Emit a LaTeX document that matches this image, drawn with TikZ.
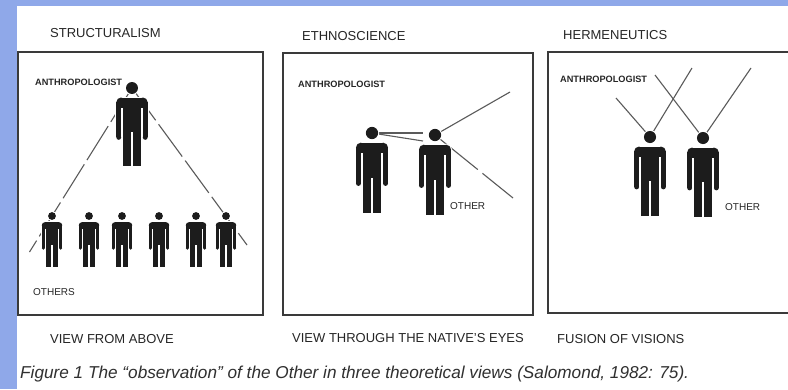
\documentclass[tikz,border=0pt]{standalone}
\usepackage{fontspec}
\setmainfont{Liberation Sans}

\definecolor{sideblue}{HTML}{8FA8E9}
\definecolor{figink}{HTML}{1C1C1C}
\definecolor{boxline}{HTML}{3A3A3A}
\definecolor{sight}{HTML}{5A5A5A}
\definecolor{inkgray}{HTML}{262626}
\definecolor{captiongray}{HTML}{303030}

% Pictogram of a standing person, head centre at the origin, y pointing down.
\newcommand\figparts[1]{%
  \path[#1] (0,0) circle[radius=6.3];
  \path[#1] (-11.5,15) circle[radius=5];
  \path[#1] (11.5,15) circle[radius=5];
  \path[#1] (-11.5,10) rectangle (11.5,21);
  \path[#1] (-16.5,15) rectangle (16.5,21);
  \path[#1] (-16.5,15) rectangle (-11.4,52);
  \path[#1] (-13.95,52) circle[radius=2.55];
  \path[#1] (11.4,15) rectangle (16.5,52);
  \path[#1] (13.95,52) circle[radius=2.55];
  \path[#1] (-9.6,15) rectangle (9.6,46);
  \path[#1] (-9.6,40) rectangle (-0.85,82);
  \path[#1] (0.85,40) rectangle (9.6,82);
}

\tikzset{
  halo/.style={draw=white, line width=2pt},
  figbody/.style={fill=figink},
  person/.pic={
    \coordinate (-head) at (0,0);
    \figparts{halo}
    \figparts{figbody}
  },
  frame/.style={draw=boxline, line width=1.8pt},
  look/.style={draw=sight, line width=1.1pt},
  title/.style={anchor=base west, inner sep=0pt, text=inkgray,
    font=\fontsize{13}{15}\selectfont},
  tag/.style={anchor=base west, inner sep=0pt, text=inkgray,
    font=\bfseries\fontsize{9.2}{11}\selectfont},
  othertag/.style={anchor=base west, inner sep=0pt, text=inkgray,
    font=\fontsize{10}{12}\selectfont},
  caption/.style={anchor=base west, inner sep=0pt, text=captiongray,
    font=\itshape\fontsize{17.2}{20}\selectfont},
}

\begin{document}
\begin{tikzpicture}[x=1pt, y=-1pt]
\useasboundingbox (0,0) rectangle (788,389);
\fill[white] (0,0) rectangle (788,389);
\fill[sideblue] (0,0) rectangle (788,6);
\fill[sideblue] (0,0) rectangle (17,389);

% frames of the three panels
\draw[frame] (18,52) rectangle (263,315);
\draw[frame] (283,53) rectangle (533,315);
\draw[frame] (792,52) -- (548,52) -- (548,313) -- (792,313);

% headings and sub-headings
\node[title] (t1) at (50,37) {STRUCTURALISM};
\node[title] (t2) at (302,40) {ETHNOSCIENCE};
\node[title] (t3) at (563,39) {HERMENEUTICS};
\node[title] (b1) at (50,343) {VIEW FROM ABOVE};
\node[title] (b2) at (292,342) {VIEW THROUGH THE NATIVE'S EYES};
\node[title] (b3) at (557,343) {FUSION OF VISIONS};

% --- structuralism: one observer above many others
\coordinate (hA) at (132,88);
\coordinate (eAL) at (29.5,252);
\coordinate (eAR) at (247,245);
\draw[look, dash pattern=on 40pt off 5pt] (hA) -- (eAL);
\draw[look, dash pattern=on 40pt off 5pt] (hA) -- (eAR);
\pic[scale=0.95] (anthA) at (hA) {person};
\foreach \x [count=\i] in {52,89,122,159,196,226}
  \pic[scale=0.62] (other\i) at (\x,216) {person};
\node[tag] (lA) at (35,85) {ANTHROPOLOGIST};
\node[othertag] (oA) at (33,295) {OTHERS};

% --- ethnoscience: looking through the other's eyes
\coordinate (hB1) at (372,133);
\coordinate (hB2) at (435,135);
\coordinate (wB1) at (423,133);
\coordinate (wB2) at (423,141);
\coordinate (eBU) at (510,92);
\coordinate (eBD) at (513,198);
\draw[look] (hB1) -- (wB1);
\draw[look] (hB1) -- (wB2);
\draw[look] (hB2) -- (eBU);
\draw[look, dash pattern=on 55pt off 6pt on 100pt] (hB2) -- (eBD);
\pic[scale=0.97] (anthB) at (hB1) {person};
\pic[scale=0.97] (otherB) at (hB2) {person};
\node[tag] (lB) at (298,87) {ANTHROPOLOGIST};
\node[othertag] (oB) at (450,209) {OTHER};

% --- hermeneutics: crossing lines of sight
\coordinate (hC1) at (650,137);
\coordinate (hC2) at (703,138);
\coordinate (eC1L) at (616,98);
\coordinate (eC1R) at (692,68);
\coordinate (eC2L) at (655,75);
\coordinate (eC2R) at (751,68);
\draw[look] (hC1) -- (eC1L);
\draw[look] (hC1) -- (eC1R);
\draw[look] (hC2) -- (eC2L);
\draw[look] (hC2) -- (eC2R);
\pic[scale=0.96] (anthC) at (hC1) {person};
\pic[scale=0.96] (otherC) at (hC2) {person};
\node[tag] (lC) at (560,82) {ANTHROPOLOGIST};
\node[othertag] (oC) at (725,210) {OTHER};

% caption
\node[caption] (cap) at (20,378)
  {Figure 1 The “observation” of the Other in three theoretical views (Salomond, 1982: 75).};
\end{tikzpicture}
\end{document}
